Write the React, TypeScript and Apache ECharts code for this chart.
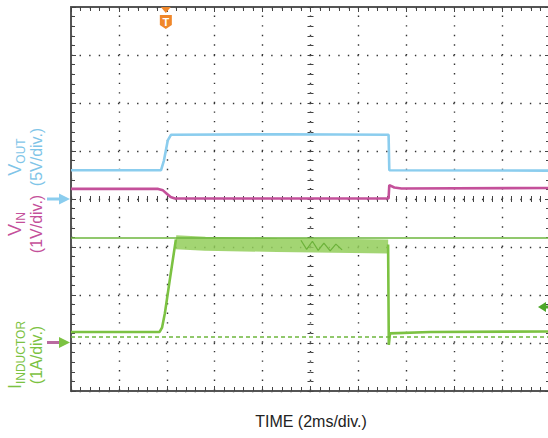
import React, { useEffect, useRef } from "react";
import * as echarts from "echarts";

// Screen coordinates of the scope: 10 horizontal divisions (2 ms/div), 8 vertical divisions
const X_MIN = 0;
const X_MAX = 10;
const Y_MIN = -4;
const Y_MAX = 4;

// Traces, in divisions [time div, vertical div]
const voutTrace: number[][] = [
  [0, 0.6], [1.88, 0.6], [1.94, 0.8], [2.02, 1.22], [2.09, 1.34], [4.5, 1.35], [6.63, 1.34], [6.645, 0.6], [10, 0.59],
];
const vinTrace: number[][] = [
  [0, 0.21], [1.82, 0.21], [1.92, 0.18], [2.0, 0.11], [2.08, 0.04], [2.17, 0.01], [6.63, 0.01], [6.645, 0.29],
  [6.75, 0.24], [6.9, 0.22], [10, 0.23],
];
const inductorRise: number[][] = [
  [0, -2.77], [1.85, -2.77], [1.9, -2.68], [1.96, -2.38], [2.06, -1.7], [2.19, -0.84],
];
const inductorBand: number[][] = [
  [2.19, -0.9], [2.8, -0.93], [4.3, -0.96], [6.62, -0.99],
];
const inductorRipple: number[][] = [
  [4.8, -0.86], [4.92, -1.05], [5.04, -0.88], [5.16, -1.07], [5.28, -0.92], [5.41, -1.08], [5.53, -0.94], [5.66, -1.06],
];
const inductorFall: number[][] = [
  [6.62, -0.95], [6.635, -3.04], [6.66, -2.8], [7.5, -2.77], [10, -2.76],
];
const cursorSolid = -0.81;
const cursorDashed = -2.875;
const triggerTime = 1.98;
const voutRef = 0;
const inductorRef = -2.99;
const triggerLevel = -2.25;

const FONT = '"Liberation Sans", Arial, sans-serif';
const C_VOUT = "#8bcdee";
const C_VOUT_TXT = "#7fc5e8";
const C_VIN = "#c4509a";
const C_IND = "#7cc242";
const C_ORANGE = "#f0872a";

const tickStyle = { color: "#444", width: 1 };
const frameLine = { show: true, onZero: false, lineStyle: { color: "#555", width: 2 } };
const dotted = { color: "#333", width: 1.4, type: [1.4, 8.18], dashOffset: 0.7 };

function xAx(extra: any) {
  return {
    type: "value", min: X_MIN, max: X_MAX, interval: 1,
    axisLabel: { show: false }, splitLine: { show: false },
    ...extra,
  };
}
function yAx(extra: any) {
  return {
    type: "value", min: Y_MIN, max: Y_MAX, interval: 1,
    axisLabel: { show: false }, splitLine: { show: false },
    ...extra,
  };
}

function sideLabel(cx: number, cy: number, main: string, sub: string, second: string, color: string) {
  return {
    type: "text", x: cx, y: cy, rotation: Math.PI / 2, silent: true,
    style: {
      text: `{m|${main}}{s|${sub}}\n{d|${second}}`,
      align: "center", verticalAlign: "top", textAlign: "center", textVerticalAlign: "top",
      fill: color, fontFamily: FONT,
      rich: {
        m: { fontSize: 18, lineHeight: 20, verticalAlign: "bottom", padding: [0, 0, 3, 0], fill: color, fontFamily: FONT },
        s: { fontSize: 12, lineHeight: 14, verticalAlign: "bottom", fill: color, fontFamily: FONT },
        d: { fontSize: 16, lineHeight: 18, fill: color, fontFamily: FONT },
      },
    },
  };
}

export default function App() {
  const ref = useRef<HTMLDivElement>(null);
  useEffect(() => {
    document.body.style.margin = "0";
    const chart = echarts.init(ref.current!, undefined, { renderer: "svg" });
    const lineSeries = (name: string, data: number[][], color: string, width: number, extra: any = {}) => ({
      type: "line", name, data, symbol: "none", showSymbol: false, silent: true,
      xAxisIndex: 0, yAxisIndex: 0,
      lineStyle: { color, width, cap: "butt" }, z: 3, ...extra,
    });
    chart.setOption({
      animation: false,
      backgroundColor: "#ffffff",
      grid: { left: 71, top: 7, width: 479, height: 384, containLabel: false, outerBoundsMode: "none" },
      xAxis: [
        xAx({ position: "bottom", axisLine: frameLine,
          axisTick: { show: true, inside: true, length: 5, lineStyle: tickStyle },
          minorTick: { show: true, splitNumber: 5, length: 4, lineStyle: tickStyle },
          splitLine: { show: true, lineStyle: dotted } }),
        xAx({ position: "top", axisLine: frameLine,
          axisTick: { show: true, inside: true, length: 5, lineStyle: tickStyle },
          minorTick: { show: true, splitNumber: 5, length: 4, lineStyle: tickStyle } }),
        xAx({ position: "bottom", offset: -192, axisLine: { show: false, onZero: false },
          axisTick: { show: true, inside: true, length: 3, lineStyle: tickStyle },
          minorTick: { show: true, splitNumber: 5, length: 3, lineStyle: tickStyle } }),
        xAx({ position: "bottom", offset: -192, axisLine: { show: false, onZero: false },
          axisTick: { show: true, inside: false, length: 3, lineStyle: tickStyle },
          minorTick: { show: true, splitNumber: 5, length: 3, lineStyle: tickStyle } }),
      ],
      yAxis: [
        yAx({ position: "left", axisLine: frameLine,
          axisTick: { show: true, inside: true, length: 5, lineStyle: tickStyle },
          minorTick: { show: true, splitNumber: 5, length: 4, lineStyle: tickStyle },
          splitLine: { show: true, lineStyle: dotted } }),
        yAx({ position: "right", axisLine: frameLine,
          axisTick: { show: true, inside: true, length: 5, lineStyle: tickStyle },
          minorTick: { show: true, splitNumber: 5, length: 4, lineStyle: tickStyle } }),
        yAx({ position: "left", offset: -239.5, axisLine: { show: false, onZero: false },
          axisTick: { show: true, inside: true, length: 3, lineStyle: tickStyle },
          minorTick: { show: true, splitNumber: 5, length: 3, lineStyle: tickStyle } }),
        yAx({ position: "left", offset: -239.5, axisLine: { show: false, onZero: false },
          axisTick: { show: true, inside: false, length: 3, lineStyle: tickStyle },
          minorTick: { show: true, splitNumber: 5, length: 3, lineStyle: tickStyle } }),
      ],
      series: [
        lineSeries("VOUT", voutTrace, C_VOUT, 2.6),
        lineSeries("VIN", vinTrace, C_VIN, 2.6),
        lineSeries("IINDUCTOR band", inductorBand, "#93ce5a", 14, { lineStyle: { color: "#93ce5a", width: 14, cap: "butt", opacity: 0.85 } }),
        lineSeries("IINDUCTOR ripple", inductorRipple, "#6cb23a", 1.2),
        lineSeries("IINDUCTOR rise", inductorRise, C_IND, 2.6),
        lineSeries("IINDUCTOR fall", inductorFall, C_IND, 2.6, {
          markLine: {
            silent: true, symbol: ["none", "none"], label: { show: false },
            lineStyle: { color: "#6db63c", width: 1.5, type: "solid" },
            data: [
              { yAxis: cursorSolid },
              { yAxis: cursorDashed, lineStyle: { color: "#6db63c", width: 1.5, type: [4, 3] } },
            ],
          },
        }),
      ],
    });

    const px = (x: number, y: number) => chart.convertToPixel({ gridIndex: 0 } as any, [x, y]) as number[];
    const tx = px(triggerTime, 0)[0];
    const yV = px(0, voutRef)[1];
    const yI = px(0, inductorRef)[1];
    const yT = px(0, triggerLevel)[1];
    const top = px(0, Y_MAX)[1];

    chart.setOption({
      graphic: [
        // trigger marker
        { type: "polygon", silent: true, z: 10, shape: { points: [[tx - 5, top], [tx + 5, top], [tx, top + 6]] }, style: { fill: C_ORANGE } },
        { type: "polygon", silent: true, z: 10, shape: { points: [[tx - 6, top + 8], [tx + 6, top + 8], [tx + 6, top + 18], [tx, top + 22], [tx - 6, top + 18]] }, style: { fill: C_ORANGE } },
        { type: "text", silent: true, z: 11, x: tx, y: top + 15, style: { text: "T", fill: "#fff", fontSize: 11, fontWeight: "bold", fontFamily: FONT, align: "center", verticalAlign: "middle", textAlign: "center", textVerticalAlign: "middle" } },
        // left ground arrows
        { type: "rect", silent: true, shape: { x: 47, y: yV - 1.5, width: 13, height: 3 }, style: { fill: C_VOUT } },
        { type: "polygon", silent: true, shape: { points: [[59, yV - 5.5], [70, yV], [59, yV + 5.5]] }, style: { fill: C_VOUT } },
        { type: "rect", silent: true, shape: { x: 47, y: yI - 1.5, width: 13, height: 3 }, style: { fill: "#b96aa0" } },
        { type: "polygon", silent: true, shape: { points: [[59, yI - 5.5], [70, yI], [59, yI + 5.5]] }, style: { fill: C_IND } },
        // right trigger-level arrow
        { type: "polygon", silent: true, shape: { points: [[538, yT], [546, yT - 5], [546, yT + 5]] }, style: { fill: "#4ea82a" } },
        { type: "rect", silent: true, shape: { x: 545, y: yT - 1.5, width: 4, height: 3 }, style: { fill: "#4ea82a" } },
        // channel labels
        sideLabel(7, 157, "V", "OUT", "(5V/div.)", C_VOUT_TXT),
        sideLabel(7, 224, "V", "IN", "(1V/div.)", C_VIN),
        sideLabel(7, 355, "I", "INDUCTOR", "(1A/div.)", C_IND),
        // time label
        { type: "text", silent: true, x: 311, y: 421, style: { text: "TIME (2ms/div.)", fill: "#222", fontSize: 16, fontFamily: FONT, align: "center", verticalAlign: "middle", textAlign: "center", textVerticalAlign: "middle" } },
      ],
    });
    return () => chart.dispose();
  }, []);
  return <div ref={ref} style={{ position: "absolute", left: 0, top: 0, width: 548, height: 438 }} />;
}
